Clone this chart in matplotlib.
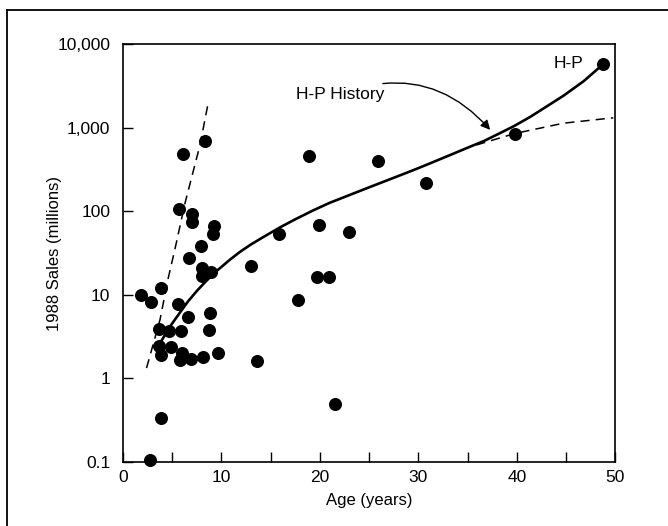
import matplotlib
matplotlib.use('Agg')
import matplotlib.pyplot as plt
import matplotlib.ticker as mticker
import numpy as np

plt.rcParams['font.family'] = ['Liberation Sans', 'DejaVu Sans']

# company age (years) vs 1988 sales (millions)
age = [1.8, 2.85, 3.86, 3.7, 4.7, 5.9, 3.7, 3.83, 4.85, 5.96, 5.8, 6.88, 8.16, 9.69,
       5.62, 6.64, 8.84, 8.74, 3.83, 2.8, 13.6, 21.5, 17.75, 19.7, 20.97, 13.0,
       6.74, 8.0, 8.06, 8.94, 7.93, 6.13, 8.33, 18.9, 5.72, 7.04, 7.04, 9.25, 9.18,
       15.9, 19.95, 23.0, 25.95, 30.8, 39.77, 48.75]
sales = [10, 8.3, 12.2, 3.9, 3.7, 3.7, 2.45, 1.9, 2.4, 2.0, 1.65, 1.7, 1.78, 2.0,
         7.7, 5.5, 6.1, 3.8, 0.34, 0.105, 1.6, 0.5, 8.7, 16.3, 16.5, 22,
         27.5, 21, 17, 18.6, 38.6, 490, 700, 457, 105, 92, 75, 66, 53,
         53, 68, 57, 403, 219, 838, 5700]

# H-P history curve
hp_age = [3.9, 4.8, 5.8, 6.6, 7.5, 8.5, 9.5, 10.9, 11.9, 13.0, 14.3, 16.0, 17.5,
          19.3, 21.0, 22.7, 25.0, 27.8, 29.5, 31.2, 33.0, 35.3, 36.7, 38.0, 39.7,
          41.4, 43.0, 44.75, 46.8, 48.75]
hp_sales = [2.8, 4.2, 6.15, 8.3, 11.1, 14.8, 19.2, 26.5, 32.7, 40, 49.4, 64.5, 80,
            102, 126, 151, 193, 259, 310, 374, 458, 594, 695, 826, 1040,
            1352, 1780, 2410, 3600, 5700]

# steep dashed line
steep_age = [2.4, 3.76, 4.6, 5.28, 6.3, 7.83, 8.67]
steep_sales = [1.33, 5.0, 15.8, 35, 124, 620, 2000]

# flattening dashed line
flat_age = [35.9, 39.8, 44.75, 49.8]
flat_sales = [620, 850, 1130, 1310]

fig = plt.figure(figsize=(6.68, 5.26), dpi=100)
ax = fig.add_axes([0.184, 0.1217, 0.737, 0.7946])

ax.plot(steep_age, steep_sales, color='black', lw=1.1, dashes=(6, 4))
ax.plot(flat_age, flat_sales, color='black', lw=1.1, dashes=(6, 4))
ax.plot(hp_age, hp_sales, color='black', lw=1.9, solid_joinstyle='round')
ax.scatter(age, sales, s=70, color='black', zorder=3, clip_on=False)

ax.set_yscale('log')
ax.set_xlim(0, 50)
ax.set_ylim(0.1, 10000)
ax.set_xticks([0, 10, 20, 30, 40, 50])
ax.set_xticks([5, 15, 25, 35, 45], minor=True)
ax.set_yticks([0.1, 1, 10, 100, 1000, 10000])
ax.set_yticklabels(['0.1', '1', '10', '100', '1,000', '10,000'])
ax.yaxis.set_minor_locator(mticker.NullLocator())
ax.tick_params(which='both', direction='in', length=7, width=1, labelsize=12.5,
               top=False, right=False)
ax.tick_params(axis='x', pad=6)
ax.tick_params(axis='y', pad=9)
for s in ax.spines.values():
    s.set_linewidth(1.2)

ax.set_xlabel('Age (years)', fontsize=12)
ax.set_ylabel('1988 Sales (millions)', fontsize=12)
ax.xaxis.set_label_coords(0.5, -0.075)
ax.yaxis.set_label_coords(-0.124, 0.5)

ax.text(43.7, 5900, 'H-P', fontsize=12.5, va='center', ha='left')
ax.annotate('H-P History', xy=(37.3, 940), xytext=(26.6, 2500),
            fontsize=12.5, va='center', ha='right',
            arrowprops=dict(arrowstyle='-|>', color='black', lw=1.0,
                            mutation_scale=14, shrinkA=3, shrinkB=0,
                            connectionstyle='arc3,rad=-0.35'))

# frame around the figure (left and top visible)
fig.add_artist(plt.Line2D([7/668, 7/668], [0, 1 - 10/526], color='black', lw=1.3))
fig.add_artist(plt.Line2D([7/668, 1], [1 - 10/526, 1 - 10/526], color='black', lw=1.3))

fig.savefig('out.png', dpi=100)
